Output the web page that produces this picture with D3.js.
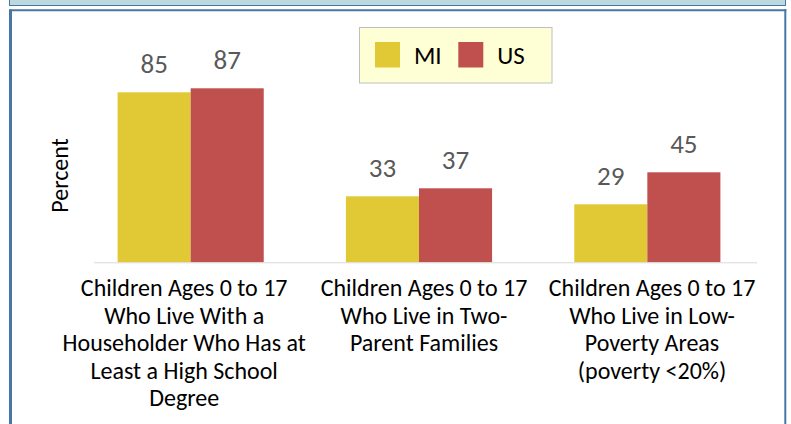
<!DOCTYPE html>
<html>
<head>
<meta charset="utf-8">
<script src="https://cdn.jsdelivr.net/npm/d3@7/dist/d3.min.js"></script>
<style>
  html, body { margin: 0; padding: 0; background: #ffffff; }
  svg { display: block; }
  text { font-family: Carlito, Calibri, Lato, "Open Sans", sans-serif; }
</style>
</head>
<body>
<svg id="chart" width="791" height="424"></svg>
<script>
// Indicator categories, each split into the lines shown under the axis
const categories = ["highSchool", "twoParent", "lowPoverty"];
const categoryLabels = [
  ["Children Ages 0 to 17", "Who Live With a", "Householder Who Has at", "Least a High School", "Degree"],
  ["Children Ages 0 to 17", "Who Live in Two-", "Parent Families"],
  ["Children Ages 0 to 17", "Who Live in Low-", "Poverty Areas", "(poverty <20%)"]
];
const seriesNames = ["MI", "US"];
const miValues = [85, 33, 29];
const usValues = [87, 37, 45];
const seriesColors = ["#E1C935", "#C0504D"];

const svg = d3.select("#chart");
const W = 791, H = 424;

// Outer decoration: a banner strip across the top and a framed panel
svg.append("rect")
  .attr("x", 9.5).attr("y", -5).attr("width", 776).attr("height", 10.5)
  .attr("fill", "#BED8E0").attr("stroke", "#4777A5").attr("stroke-width", 1);
svg.append("line").attr("x1", 10.5).attr("x2", 10.5).attr("y1", 9.5).attr("y2", H + 5)
  .attr("stroke", "#4777A5").attr("stroke-width", 3);
svg.append("line").attr("x1", 9).attr("x2", 786.3).attr("y1", 10.3).attr("y2", 10.3)
  .attr("stroke", "#4777A5").attr("stroke-width", 2);
svg.append("line").attr("x1", 785.3).attr("x2", 785.3).attr("y1", 9.3).attr("y2", H + 5)
  .attr("stroke", "#4777A5").attr("stroke-width", 2);

// Scales
const baseY = 262.3;
const y = d3.scaleLinear().domain([0, 100]).range([baseY, baseY - 200]);
const x0 = d3.scaleBand().domain(categories).range([76.5, 761.5])
  .paddingInner(0.36).paddingOuter(0.18);
const x1 = d3.scaleBand().domain(seriesNames).range([0, x0.bandwidth()]);
const color = d3.scaleOrdinal().domain(seriesNames).range(seriesColors);

const rows = categories.map((c, i) => ({
  cat: c,
  values: [
    { series: "MI", value: miValues[i] },
    { series: "US", value: usValues[i] }
  ]
}));

// Bars
const groups = svg.append("g").selectAll("g").data(rows).join("g")
  .attr("transform", d => `translate(${x0(d.cat)},0)`);

groups.selectAll("rect").data(d => d.values).join("rect")
  .attr("x", d => x1(d.series))
  .attr("y", d => y(d.value))
  .attr("width", x1.bandwidth())
  .attr("height", d => baseY - y(d.value))
  .attr("fill", d => color(d.series));

// Value labels above bars
groups.selectAll("text.val").data(d => d.values).join("text")
  .attr("class", "val")
  .attr("x", d => x1(d.series) + x1.bandwidth() / 2)
  .attr("y", d => y(d.value) - 19.5)
  .attr("text-anchor", "middle")
  .attr("font-size", 27)
  .attr("fill", "#595959")
  .text(d => d.value);

// Category axis line
svg.append("line")
  .attr("x1", 94).attr("x2", 757).attr("y1", baseY + 0.5).attr("y2", baseY + 0.5)
  .attr("stroke", "#D9D9D9").attr("stroke-width", 1);

// Category labels, wrapped onto several lines
const labelShift = [-6.5, 5, 4.7];
const labelG = svg.append("g");
categories.forEach((c, i) => {
  const cx = x0(c) + x0.bandwidth() / 2 + labelShift[i];
  const t = labelG.append("text")
    .attr("text-anchor", "middle")
    .attr("font-size", 24)
    .attr("fill", "#000");
  categoryLabels[i].forEach((line, j) => {
    t.append("tspan").attr("x", cx).attr("y", 296 + j * 27.5).text(line);
  });
});

// Y axis title
svg.append("text")
  .attr("transform", `translate(67.5,175.5) rotate(-90)`)
  .attr("text-anchor", "middle")
  .attr("font-size", 24)
  .attr("fill", "#000")
  .text("Percent");

// Legend
const lg = svg.append("g");
lg.append("rect")
  .attr("x", 359.5).attr("y", 27.5).attr("width", 192.5).attr("height", 55.5)
  .attr("fill", "#FFFFD5").attr("stroke", "#BFBFBF").attr("stroke-width", 1);
const legendX = [375, 458.3];
const legendItems = lg.selectAll("g").data(seriesNames).join("g")
  .attr("transform", (d, i) => `translate(${legendX[i]},42)`);
legendItems.append("rect")
  .attr("width", 25).attr("height", 25.5)
  .attr("fill", d => color(d));
legendItems.append("text")
  .attr("x", 39).attr("y", 21.5)
  .attr("font-size", 25)
  .attr("fill", "#000")
  .text(d => d);
</script>
</body>
</html>
